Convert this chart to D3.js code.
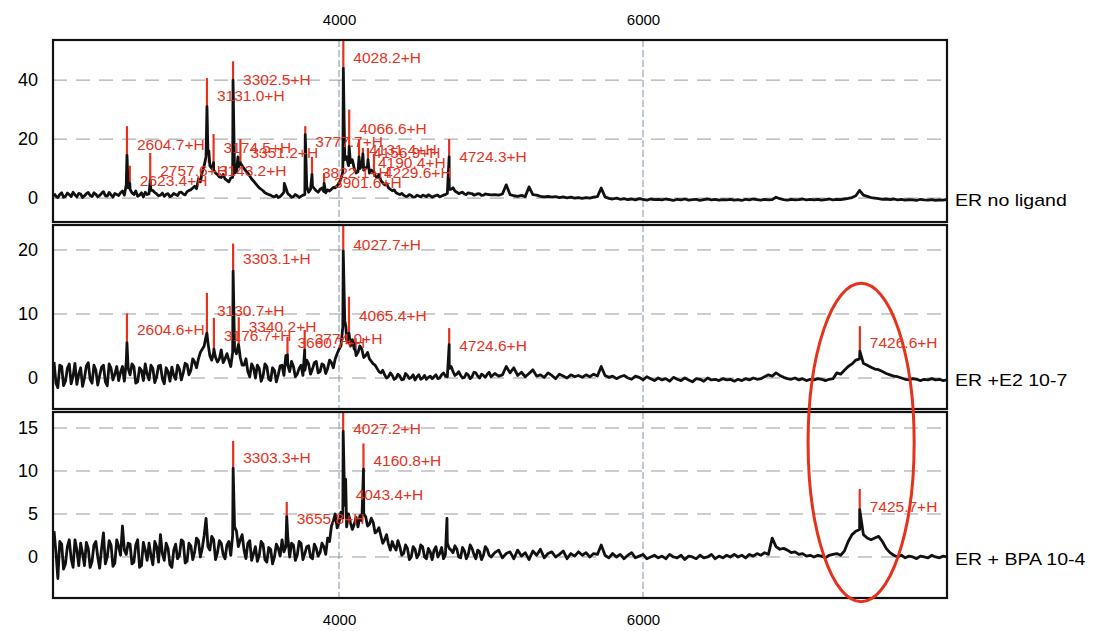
<!DOCTYPE html>
<html>
<head>
<meta charset="utf-8">
<script src="https://cdn.jsdelivr.net/npm/d3@7"></script>
<style>
body { margin: 0; background: #fff; }
svg text { font-family: "Liberation Sans", Arial, sans-serif; }
</style>
</head>
<body>
<div id="chart"></div>
<script>
// spectra are sampled every 25 Da from 2125 to 8000,
// with extra in-between readings (2137.5 ... 4987.5) in the noisy low-mass part
var massStart = 2125, massStep = 25;
var midStart = 2137.5;
var massTicks = [4000, 6000];
var seriesNames = ["ER no ligand", "ER +E2 10-7", "ER + BPA 10-4"];

var yTicks1 = [0, 20, 40];
var yTicks2 = [0, 10, 20];
var yTicks3 = [0, 5, 10, 15];

var trace1 = [
  1.5,0.2,1.8,0.6,1.2,2.0,0.4,1.4,0.8,1.9,0.5,1.3,0.9,2.2,0.7,1.1,1.6,0.9,2.4,4.5,
  3.0,1.2,0.6,1.8,2.0,1.5,2.6,1.4,1.0,0.6,1.5,0.8,1.2,1.9,1.4,2.2,2.8,4.0,6.5,9.0,
  14,11,9.5,8.0,7.0,6.5,5.5,7.0,9.0,12,10,8.5,6.5,5.0,3.5,2.5,1.5,1.0,0.4,0.2,
  1.2,3.5,1.0,0.5,0.8,0.6,1.2,2.0,4.0,2.5,3.0,2.2,2.8,3.0,3.5,5.0,9.0,14,12,10,
  9,11,10,8.5,9,7,6,4.5,3.5,2.5,1.8,1.2,1.0,0.6,0.9,0.4,0.7,1.0,0.5,0.8,
  0.6,1.0,0.7,1.2,3.0,3.5,2.0,1.8,1.4,1.8,1.5,1.2,1.4,1.0,1.3,1.1,1.2,1.0,1.4,4.5,
  1.2,0.8,0.6,0.9,0.5,3.8,1.2,1.0,0.6,0.4,0.6,0.3,0.5,0.2,0.4,0.1,0.3,0.0,0.2,-0.1,
  0.2,0.0,0.3,0.5,3.4,0.4,-0.1,-0.3,0.0,-0.4,-0.2,-0.5,-0.3,-0.6,-0.2,-0.4,-0.7,-0.3,-0.5,-0.4,
  -0.6,-0.3,-0.5,-0.8,-0.4,-0.6,-0.3,-0.7,-0.5,-0.4,-0.8,-0.5,-0.3,-0.6,-0.4,-0.7,-0.5,-0.6,-0.4,-0.7,
  -0.5,-0.8,-0.4,-0.6,-0.3,-0.5,-0.7,-0.4,-0.6,-0.5,0.3,-0.2,-0.5,-0.7,-0.4,-0.6,-0.5,-0.3,-0.6,-0.4,
  -0.6,-0.4,-0.7,-0.5,-0.3,-0.6,-0.4,-0.5,-0.3,-0.1,0.2,0.8,2.6,1.0,0.6,0.2,0.0,-0.2,-0.4,-0.3,
  -0.5,-0.3,-0.6,-0.4,-0.7,-0.5,-0.6,-0.8,-0.4,-0.6,-0.7,-0.5,-0.8,-0.6,-0.7,-0.4
];
var mid1 = [
  0.6,1.2,0.3,1.7,0.5,1.1,1.6,0.2,1.5,0.9,1.8,0.4,1.6,0.8,1.9,0.3,1.2,1.8,1.0,3.5,
  1.8,2.4,1.0,0.4,1.2,2.6,1.9,0.8,1.7,1.3,0.5,1.6,0.9,2.0,1.1,2.6,3.4,3.2,5.5,11,
  15,10,8.5,7.2,8.0,6.0,6.8,8.5,10.5,11,9.2,7.5,5.8,4.2,3.0,1.8,1.2,0.6,1.0,0.5,
  2.0,1.5,0.3,1.2,0.2,1.0,4.0,3.0,3.2,2.0,3.4,1.8,2.4,3.6,4.2,6.5,13,11,13,8.5,
  10,9.5,11,9.5,7.5,8.0,5.2,5.0,3.0,2.8,1.5,1.6,0.6,1.2,0.3,1.0,0.4,0.8,1.1,0.3,
  0.9,0.4,1.0,1.6,3.0,2.4,1.5,2.0,1.2,1.6,1.0,1.5,0.9,1.4,1.2
];
var trace2 = [
  2.5,-1.5,1.8,-0.5,2.2,0.3,-1.0,1.6,0.0,2.4,-0.8,1.2,0.4,2.0,-1.2,1.5,0.6,-0.4,1.8,2.5,
  0.5,1.8,-0.6,1.2,2.2,-0.3,1.5,0.2,2.0,-0.9,1.0,1.7,-0.2,1.4,0.8,2.1,1.2,2.5,3.0,4.5,
  6.5,3.5,4.0,2.5,4.4,3.0,2.8,4.0,3.8,3.2,2.0,1.0,2.2,0.0,1.5,0.3,1.8,-0.4,1.2,0.5,
  2.0,3.5,1.0,1.8,0.6,2.0,1.2,2.2,1.4,2.6,1.0,2.0,1.5,2.4,3.0,4.5,8.0,6.0,5.0,4.5,
  4.0,4.5,3.5,3.0,2.2,1.5,0.8,0.5,0.2,0.4,0.0,0.3,-0.2,0.4,0.1,-0.3,0.5,0.0,-0.2,0.3,
  0.2,-0.1,0.5,0.3,1.5,1.0,0.6,0.4,0.1,0.5,0.2,0.8,0.0,0.4,0.6,0.2,0.7,0.3,0.5,1.8,
  0.8,1.6,0.4,0.9,0.2,0.7,1.3,0.3,0.5,0.1,0.8,0.4,-0.1,0.6,0.3,0.0,0.5,0.2,0.4,0.1,
  0.5,0.2,0.6,0.3,1.8,0.4,0.1,0.3,-0.1,0.2,0.4,0.0,-0.2,0.3,0.1,-0.3,0.2,-0.1,-0.4,0.0,
  -0.3,-0.1,-0.5,0.1,-0.2,-0.4,0.0,-0.3,-0.6,-0.1,-0.2,-0.5,0.0,-0.3,-0.2,-0.4,-0.1,-0.3,-0.2,-0.5,
  -0.2,-0.4,-0.1,-0.3,0.0,-0.2,-0.1,0.2,0.5,0.3,0.8,0.4,0.1,-0.1,-0.2,0.0,-0.3,-0.1,-0.4,-0.2,
  -0.3,-0.1,-0.2,-0.4,-0.2,-0.1,0.8,0.6,1.2,1.8,2.2,2.8,3.0,2.3,2.0,1.7,1.4,1.3,1.0,0.7,
  0.5,0.3,0.2,0.0,-0.2,-0.3,-0.1,-0.2,-0.4,-0.2,-0.3,-0.1,-0.3,-0.2,-0.4,-0.3
];
var mid2 = [
  -0.8,2.0,-1.2,1.5,-0.9,2.3,0.6,-1.3,1.9,-0.2,2.0,-1.1,1.7,-0.6,2.2,-0.3,1.8,0.9,-0.5,1.5,
  2.2,-0.8,1.6,-0.4,0.6,2.0,-0.7,1.9,-0.1,1.6,-0.5,0.4,2.0,-0.3,2.3,0.5,3.0,1.6,4.0,5.0,
  5.5,2.8,3.2,3.0,2.4,3.8,1.8,4.5,5.2,2.0,3.0,0.2,1.6,2.0,-0.5,2.2,-0.2,1.6,-0.6,1.9,
  0.4,2.0,2.6,0.2,1.5,0.4,2.8,0.6,2.4,0.8,2.2,0.7,2.8,1.6,3.8,5.0,9.0,5.5,6.0,3.5,
  5.0,3.2,4.0,2.6,2.0,1.0,1.2,0.0,0.8,-0.2,0.6,-0.3,0.7,-0.1,0.5,0.2,-0.2,0.4,0.1,-0.1,
  0.5,0.0,0.8,0.2,1.8,0.4,1.0,0.0,0.7,-0.1,0.9,0.3,0.6,0.1,0.9
];
var trace3 = [
  3.0,-2.5,1.5,-0.8,2.0,-1.2,0.8,1.6,-1.0,1.0,-0.5,1.8,-1.3,2.8,0.0,1.4,-0.7,1.2,3.6,0.3,
  1.5,-0.6,2.0,-1.0,0.8,1.6,-0.9,1.2,2.6,-0.4,1.0,-1.2,1.5,0.2,1.8,-0.5,1.3,0.6,1.9,1.0,
  4.5,0.8,2.0,0.5,1.6,-0.2,1.8,2.5,3.0,2.0,0.8,1.6,-0.4,1.2,0.2,1.5,-0.6,0.9,0.0,1.0,
  2.0,1.2,0.0,1.4,0.2,1.6,0.4,1.3,-0.2,1.0,0.5,1.2,2.2,3.6,5.0,4.0,4.5,3.5,4.0,3.8,
  3.5,4.2,4.7,3.8,4.0,3.0,2.5,2.0,1.5,1.8,0.8,1.2,0.4,1.0,0.0,0.9,0.3,1.2,-0.2,0.6,
  0.8,0.0,1.1,0.3,1.0,0.5,0.9,-0.1,0.7,0.3,1.0,-0.2,0.6,0.2,0.9,0.0,0.5,0.8,-0.1,0.4,
  0.6,-0.2,0.8,0.1,0.5,-0.3,0.7,0.2,0.9,-0.1,0.4,0.6,0.0,0.3,0.7,-0.2,0.4,0.1,0.6,0.2,
  0.5,0.0,0.4,0.3,1.4,0.2,-0.1,0.4,0.0,0.3,-0.2,0.2,0.5,-0.1,0.1,0.3,-0.2,0.0,0.2,-0.1,
  0.1,-0.2,0.3,0.0,-0.1,0.2,-0.3,0.1,0.0,-0.2,0.2,-0.1,0.0,0.3,-0.2,0.1,-0.1,0.2,0.0,0.3,
  0.0,0.2,-0.1,0.3,0.1,0.4,0.2,0.5,0.3,2.2,1.2,0.9,1.0,0.8,0.5,0.6,0.3,0.4,0.1,0.2,
  0.0,0.2,0.1,-0.1,0.2,0.3,0.4,0.2,0.7,1.8,2.6,3.0,3.2,2.6,2.2,2.0,2.2,2.4,1.8,1.0,
  0.5,0.2,0.0,0.2,-0.1,0.1,0.0,-0.2,0.1,0.0,-0.1,0.2,0.0,-0.1,0.1,0.0
];
var mid3 = [
  0.5,1.8,-1.4,1.2,-0.2,2.0,-1.0,0.4,1.7,-1.2,1.4,0.0,1.0,-0.8,1.9,-1.1,2.0,0.2,0.8,1.6,
  -0.8,1.4,-1.2,1.7,-0.4,0.2,1.8,-0.6,0.4,1.6,-0.9,0.8,-0.2,2.0,-0.7,1.6,-0.3,2.2,0.0,2.5,
  1.2,2.4,-0.3,1.9,0.3,1.4,0.2,3.5,1.2,2.6,-0.2,1.9,0.4,-0.5,1.8,-0.3,1.1,-0.8,1.5,0.1,
  0.6,2.4,1.6,-0.4,1.8,-0.3,1.2,0.0,1.5,0.1,1.6,0.3,1.8,4.2,3.4,5.2,6.0,5.0,3.2,4.6,
  4.8,5.0,3.6,4.5,2.8,3.4,1.6,2.6,0.8,1.2,1.9,0.2,1.4,-0.3,1.2,-0.1,1.4,0.0,1.0,-0.3,
  1.2,0.4,-0.2,1.6,0.8,1.3,0.0,1.1,-0.2,1.4,0.3,0.8,-0.3,1.2,0.2
];

// narrow peaks [mass, intensity]
var peaks1 = [[2604.7,14.5],[2623.4,5],[2757.6,6],[3131.0,31],[3143.2,16],[3174.5,12],[3302.5,40],
  [3335,14],[3640,5],[3777.7,21.5],[3822.1,8],[3901.6,5],[4028.2,44],[4066.6,17.5],[4131.4,14],
  [4156.9,15],[4190.4,13],[4229.6,9],[4724.3,14]];
var peaks2 = [[2604.6,5.5],[3130.7,7],[3176.7,4.5],[3303.1,16.7],[3340.2,5],[3660.7,3.6],[3774.0,4.4],
  [4027.7,19.8],[4045,8],[4065.4,7],[4100,5.5],[4724.6,5.2],[7426.6,4.2]];
var peaks3 = [[3303.3,10.3],[3655.8,4.7],[4027.2,14.6],[4043.4,9],[4160.8,10.2],[4710,4.5],[7425.7,5.5]];

// peak labels [mass, marker top, label level, text]
var marks1 = [[2604.7,24.4,18.3,"2604.7+H"],[2623.4,11,6.1,"2623.4+H"],[2757.6,15.3,9.5,"2757.6+H"],
  [3131.0,40.7,34.9,"3131.0+H"],[3143.2,12,9.5,"3143.2+H"],[3174.5,21.7,17.3,"3174.5+H"],
  [3302.5,46.4,40.3,"3302.5+H"],[3351.2,20,15.3,"3351.2+H"],[3777.7,24.4,19.3,"3777.7+H"],
  [3822.1,14,8.8,"3822.1+H"],[3901.6,8.5,5.4,"3901.6+H"],[4028.2,54,47.8,"4028.2+H"],
  [4066.6,30,23.7,"4066.6+H"],[4131.4,20,16.3,"4131.4+H"],[4156.9,17,15.3,"4156.9+H"],
  [4190.4,17,11.9,"4190.4+H"],[4229.6,15,8.8,"4229.6+H"],[4724.3,20,14.2,"4724.3+H"]];
var marks2 = [[2604.6,10.1,7.5,"2604.6+H"],[3130.7,13.3,10.5,"3130.7+H"],[3176.7,9.4,6.7,"3176.7+H"],
  [3303.1,21,18.6,"3303.1+H"],[3340.2,9.5,8.0,"3340.2+H"],[3660.7,6.4,5.6,"3660.7+H"],
  [3774.0,7.5,6.2,"3774.0+H"],[4027.7,24,20.8,"4027.7+H"],[4065.4,12.7,9.8,"4065.4+H"],
  [4724.6,7.8,5.0,"4724.6+H"],[7426.6,8.1,5.5,"7426.6+H"]];
var marks3 = [[3303.3,13.5,11.6,"3303.3+H"],[3655.8,6.4,4.5,"3655.8+H"],[4027.2,17,14.9,"4027.2+H"],
  [4043.4,9.2,7.2,"4043.4+H"],[4160.8,13.2,11.2,"4160.8+H"],[7425.7,7.9,5.9,"7425.7+H"]];

var red = "#e5321d";
var width = 1101, height = 631;
var plotLeft = 53, plotRight = 947;

var panels = [
  {top: 40, bottom: 222, domain: [-8.1, 53.6], ticks: yTicks1, trace: trace1, mid: mid1, peaks: peaks1, marks: marks1, name: seriesNames[0]},
  {top: 225, bottom: 409, domain: [-4.84, 23.9], ticks: yTicks2, trace: trace2, mid: mid2, peaks: peaks2, marks: marks2, name: seriesNames[1]},
  {top: 412, bottom: 598, domain: [-4.77, 16.86], ticks: yTicks3, trace: trace3, mid: mid3, peaks: peaks3, marks: marks3, name: seriesNames[2]}
];

var x = d3.scaleLinear().domain([2118, 8000]).range([plotLeft, plotRight]);

var svg = d3.select("#chart").append("svg")
  .attr("width", width)
  .attr("height", height);

panels.forEach(function(p, k) {
  var y = d3.scaleLinear().domain(p.domain).range([p.bottom, p.top]);
  p.y = y;
  var g = svg.append("g");

  g.append("clipPath").attr("id", "clip" + k)
    .append("rect")
    .attr("x", plotLeft).attr("y", p.top)
    .attr("width", plotRight - plotLeft).attr("height", p.bottom - p.top);

  // grid
  g.selectAll(".hgrid").data(p.ticks).enter().append("line")
    .attr("x1", plotLeft).attr("x2", plotRight)
    .attr("y1", function(d) { return y(d); })
    .attr("y2", function(d) { return y(d); })
    .style("stroke", "#9a9a9a")
    .style("stroke-width", 1)
    .style("stroke-dasharray", "14,9");

  g.selectAll(".vgrid").data(massTicks).enter().append("line")
    .attr("x1", function(d) { return x(d); })
    .attr("x2", function(d) { return x(d); })
    .attr("y1", p.top).attr("y2", p.bottom)
    .style("stroke", "#7f93a8")
    .style("stroke-width", 1)
    .style("stroke-dasharray", "7,3");

  var plot = g.append("g").attr("clip-path", "url(#clip" + k + ")");

  var pts = p.trace.map(function(v, i) { return [massStart + i * massStep, v]; })
    .concat(p.mid.map(function(v, i) { return [midStart + i * massStep, v]; }))
    .concat(p.peaks)
    .sort(function(a, b) { return a[0] - b[0]; });

  // red marker starts where the trace tops out at that mass
  function traceTop(m) {
    var near = pts.filter(function(d) { return Math.abs(d[0] - m) <= 2.5; });
    return near.length ? Math.max(0, d3.max(near, function(d) { return d[1]; })) : 0;
  }

  plot.selectAll(".marker").data(p.marks).enter().append("line")
    .attr("x1", function(d) { return x(d[0]); })
    .attr("x2", function(d) { return x(d[0]); })
    .attr("y1", function(d) { return y(traceTop(d[0])); })
    .attr("y2", function(d) { return y(d[1]); })
    .style("stroke", red)
    .style("stroke-width", 2.2);

  var line = d3.line()
    .x(function(d) { return x(d[0]); })
    .y(function(d) { return y(d[1]); });

  plot.append("path")
    .datum(pts)
    .attr("d", line)
    .style("fill", "none")
    .style("stroke", "#111")
    .style("stroke-width", 2.8)
    .style("stroke-linejoin", "round");

  plot.selectAll(".mlabel").data(p.marks).enter().append("text")
    .attr("x", function(d) { return x(d[0]) + 10; })
    .attr("y", function(d) { return y(d[2]); })
    .attr("dy", "0.35em")
    .style("font-size", "15.5px")
    .style("fill", red)
    .text(function(d) { return d[3]; });

  // frame
  g.append("rect")
    .attr("x", plotLeft).attr("y", p.top)
    .attr("width", plotRight - plotLeft).attr("height", p.bottom - p.top)
    .style("fill", "none")
    .style("stroke", "#111")
    .style("stroke-width", 2.2);

  var yAxis = g.append("g")
    .attr("transform", "translate(" + plotLeft + ",0)")
    .call(d3.axisLeft(y).tickValues(p.ticks).tickSize(0).tickPadding(15));
  yAxis.select(".domain").remove();
  yAxis.selectAll("text")
    .style("font-size", "18px")
    .style("font-family", "'Liberation Sans', Arial, sans-serif")
    .style("fill", "#000");

  g.append("text")
    .attr("transform", "translate(" + (plotRight + 8) + "," + (y(0) + 2) + ") scale(1.15,1)")
    .attr("dy", "0.35em")
    .style("font-size", "17px")
    .style("fill", "#000")
    .text(p.name);
});

// mass axis, top and bottom
var xTop = svg.append("g")
  .attr("transform", "translate(0," + panels[0].top + ")")
  .call(d3.axisTop(x).tickValues(massTicks).tickSize(0).tickPadding(15).tickFormat(d3.format("d")));
var xBottom = svg.append("g")
  .attr("transform", "translate(0," + panels[2].bottom + ")")
  .call(d3.axisBottom(x).tickValues(massTicks).tickSize(0).tickPadding(16).tickFormat(d3.format("d")));
[xTop, xBottom].forEach(function(a) {
  a.select(".domain").remove();
  a.selectAll("text")
    .style("font-size", "15px")
    .style("font-family", "'Liberation Sans', Arial, sans-serif")
    .style("fill", "#000");
});

// circled region around the 7426 peak
var cxMass = 7435, rxMass = 349;
var ellTop = panels[1].y(14.8), ellBottom = panels[2].y(-5.2);
svg.append("ellipse")
  .attr("cx", x(cxMass))
  .attr("cy", (ellTop + ellBottom) / 2)
  .attr("rx", x(cxMass + rxMass) - x(cxMass))
  .attr("ry", (ellBottom - ellTop) / 2)
  .style("fill", "none")
  .style("stroke", red)
  .style("stroke-width", 3);
</script>
</body>
</html>
